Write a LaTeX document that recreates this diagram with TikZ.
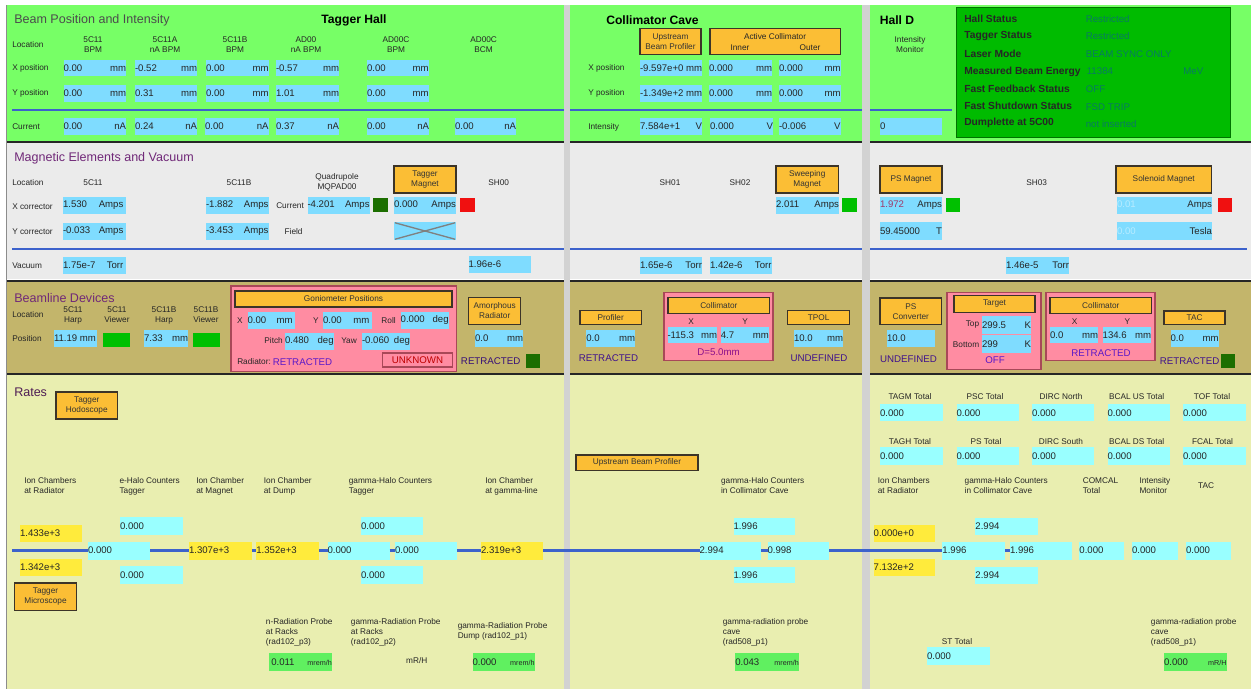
\documentclass[tikz,border=0pt]{standalone}
\usepackage{fontspec}
\setmainfont{Liberation Sans}
\definecolor{bgreen}{HTML}{77FF66}
\definecolor{bgrey}{HTML}{EBEBEB}
\definecolor{btan}{HTML}{C3B56B}
\definecolor{byel}{HTML}{E9EEB0}
\definecolor{gapc}{HTML}{D2D2D2}
\definecolor{fcyan}{HTML}{7FDCFF}
\definecolor{rcyan}{HTML}{99FFFF}
\definecolor{ryel}{HTML}{FFEB3C}
\definecolor{rgreen}{HTML}{60F060}
\definecolor{btnc}{HTML}{FBBE35}
\definecolor{btnb}{HTML}{3C3428}
\definecolor{blueln}{HTML}{3C62CC}
\definecolor{headc}{HTML}{702878}
\definecolor{sgreen}{HTML}{00C000}
\definecolor{sdark}{HTML}{1C6E00}
\definecolor{sred}{HTML}{F01010}
\definecolor{pinkc}{HTML}{FF8CA2}
\definecolor{pinkb}{HTML}{A84858}
\definecolor{purp}{HTML}{5A18C8}
\definecolor{statusc}{HTML}{00BB00}
\definecolor{statusv}{HTML}{087A62}
\tikzset{
 x=0.75pt,y=-0.75pt,
 lbl/.style={inner sep=0pt,font=\fontsize{6.2}{7.5}\selectfont,text=black!85,align=left},
 clbl/.style={inner sep=0pt,font=\fontsize{6.2}{7.5}\selectfont,text=black!85,align=center},
 head/.style={inner sep=0pt,font=\fontsize{9.4}{11}\selectfont,text=headc,anchor=west},
 hall/.style={inner sep=0pt,font=\bfseries\fontsize{9.1}{11}\selectfont,text=black},
 vbox/.style={inner sep=0pt,outer sep=0pt,font=\fontsize{7.2}{8}\selectfont,text=black!85},
 btnbox/.style={draw=btnb,line width=0.9pt,fill=btnc,inner sep=0pt,outer sep=0pt,align=center,font=\fontsize{6.2}{7.5}\selectfont,text=black!80},
 stat/.style={inner sep=0pt,anchor=west,font=\bfseries\fontsize{7.7}{8}\selectfont,text=black!85},
 statv/.style={inner sep=0pt,anchor=west,font=\fontsize{7.3}{8}\selectfont,text=statusv},
 state/.style={inner sep=0pt,font=\fontsize{7.3}{8}\selectfont,text=purp},
 pinkbox/.style={draw=pinkb,line width=0.8pt,fill=pinkc,inner sep=0pt,outer sep=0pt},
 ledbox/.style={inner sep=0pt,outer sep=0pt},
 bluerule/.style={draw=blueln,line width=1.4pt},
 beam/.style={draw=blueln,line width=1.6pt},
}
\newcount\nn
\newcommand\core[8]{%
 \pgfmathsetmacro\wpt{(#5-#3)*0.75}\pgfmathsetmacro\hpt{(#6-#4)*0.75}%
 \node[vbox,fill=#2,minimum width=\wpt pt,minimum height=\hpt pt] (#1) at ({(#3+#5)/2},{(#4+#6)/2}) {\makebox[\wpt pt]{#7\hfill #8}};}
\newcommand\fld[6][fcyan]{\global\advance\nn 1 \core{f\the\nn}{#1}{#2}{#3}{#4}{#5}{#6}}
\newcommand\bfld[5]{\core{#1}{#2}{#3}{541.5}{#4}{559.5}{#5}{}}
\newcommand\lab[4][west]{\global\advance\nn 1 \node[lbl,anchor=#1] (t\the\nn) at (#2,#3) {#4};}
\newcommand\clab[3]{\global\advance\nn 1 \node[clbl] (t\the\nn) at (#1,#2) {#3};}
\newcommand\btn[5]{\global\advance\nn 1 \pgfmathsetmacro\wpt{(#3-#1)*0.75}\pgfmathsetmacro\hpt{(#4-#2)*0.75}%
 \node[btnbox,minimum width=\wpt pt,minimum height=\hpt pt] (b\the\nn) at ({(#1+#3)/2},{(#2+#4)/2}) {#5};}
\newcommand\led[5]{\global\advance\nn 1 \pgfmathsetmacro\wpt{(#3-#1)*0.75}\pgfmathsetmacro\hpt{(#4-#2)*0.75}%
 \node[ledbox,fill=#5,minimum width=\wpt pt,minimum height=\hpt pt] (l\the\nn) at ({(#1+#3)/2},{(#2+#4)/2}) {};}
\newcommand\pinkrect[4]{\global\advance\nn 1 \pgfmathsetmacro\wpt{(#3-#1)*0.75}\pgfmathsetmacro\hpt{(#4-#2)*0.75}%
 \node[pinkbox,minimum width=\wpt pt,minimum height=\hpt pt] (p\the\nn) at ({(#1+#3)/2},{(#2+#4)/2}) {};}
\newcommand\su[1]{{\fontsize{5.4}{6}\selectfont #1}}
\newcommand\sta[4][]{\global\advance\nn 1 \node[state,#1] (s\the\nn) at (#2,#3) {#4};}
\begin{document}
\begin{tikzpicture}
\useasboundingbox (0,0) rectangle (1251,689);
\fill[white] (0,0) rectangle (1251,689);
% bands
\fill[bgreen] (6,4.5) rectangle (1251,141);
\fill[bgrey] (6,143) rectangle (1251,279);
\fill[btan] (6,281) rectangle (1251,373);
\fill[byel] (6,375) rectangle (1251,689);
\fill[black!85] (6,141) rectangle (1251,143);
\fill[black!85] (6,279.5) rectangle (1251,281.5);
\fill[black!85] (6,373) rectangle (1251,375);
\fill[black!45] (5.5,4.5) rectangle (6.5,689);
\fill[gapc] (563.5,4.5) rectangle (570,689);
\fill[gapc] (862,4.5) rectangle (870,689);
% blue rules
\draw[bluerule] (12,110) -- (563.5,110);
\draw[bluerule] (570,110) -- (862,110);
\draw[bluerule] (870,110) -- (952,110);
\draw[bluerule] (12,249) -- (563.5,249);
\draw[bluerule] (570,249) -- (862,249);
\draw[bluerule] (870,249) -- (1247,249);

% ---------- Beam position
\node[head,text=black!70] (hbeam) at (14,20) {Beam Position and Intensity};
\node[hall] (htag) at (354,20) {Tagger Hall};
\node[hall] (hcol) at (652.5,20) {Collimator Cave};
\node[hall] (hdd) at (897,20) {Hall D};
\lab{12}{44.7}{Location}
\clab{93}{45}{5C11\\BPM}
\clab{165}{45}{5C11A\\nA BPM}
\clab{235}{45}{5C11B\\BPM}
\clab{306}{45}{AD00\\nA BPM}
\clab{396}{45}{AD00C\\BPM}
\clab{483.6}{45}{AD00C\\BCM}
\lab{12}{68}{X position}
\lab{12}{93}{Y position}
\lab{12}{127}{Current}
\fld{63.5}{59.5}{126}{76}{0.00}{mm}
\fld{135}{59.5}{197}{76}{-0.52}{mm}
\fld{206}{59.5}{268.5}{76}{0.00}{mm}
\fld{276}{59.5}{339}{76}{-0.57}{mm}
\fld{367}{59.5}{428.6}{76}{0.00}{mm}
\fld{63.5}{85}{126}{101.5}{0.00}{mm}
\fld{135}{85}{197}{101.5}{0.31}{mm}
\fld{206}{85}{268.5}{101.5}{0.00}{mm}
\fld{276}{85}{339}{101.5}{1.01}{mm}
\fld{367}{85}{428.6}{101.5}{0.00}{mm}
\fld{63.5}{118}{126}{135}{0.00}{nA}
\fld{135}{118}{197}{135}{0.24}{nA}
\fld{205}{118}{268.5}{135}{0.00}{nA}
\fld{276}{118}{339}{135}{0.37}{nA}
\fld{367}{118}{429}{135}{0.00}{nA}
\fld{455}{118}{516}{135}{0.00}{nA}
% collimator cave top
\btn{640}{28.7}{701}{54.7}{Upstream\\Beam Profiler}
\btn{710}{28.7}{840.6}{54.7}{}
\clab{775}{37}{Active Collimator}
\clab{740}{47.5}{Inner}
\clab{810}{47.5}{Outer}
\lab{588}{68}{X position}
\lab{588}{93}{Y position}
\lab{588}{127}{Intensity}
\fld{640}{59.5}{702}{76}{-9.597e+0}{mm}
\fld{709}{59.5}{772}{76}{0.000}{mm}
\fld{779}{59.5}{840.6}{76}{0.000}{mm}
\fld{640}{85}{702}{101.5}{-1.349e+2}{mm}
\fld{709}{85}{772}{101.5}{0.000}{mm}
\fld{779}{85}{840.6}{101.5}{0.000}{mm}
\fld{640}{118}{702}{135}{7.584e+1}{V}
\fld{710}{118}{773}{135}{0.000}{V}
\fld{779}{118}{840.6}{135}{-0.006}{V}
% hall D top
\clab{910}{45}{Intensity\\Monitor}
\fld{880}{118}{942}{135}{0}{}
\node[draw=green!45!black,line width=0.7pt,fill=statusc,inner sep=0pt,minimum width=205.9pt,minimum height=97.5pt] (statusbox) at (1093.25,72) {};
\node[stat] (s1) at (964,19) {Hall Status};
\node[stat] (s2) at (964,36) {Tagger Status};
\node[stat] (s3) at (964,54) {Laser Mode};
\node[stat] (s4) at (964,72) {Measured Beam Energy};
\node[stat] (s5) at (964,89) {Fast Feedback Status};
\node[stat] (s6) at (964,106) {Fast Shutdown Status};
\node[stat] (s7) at (964,123) {Dumplette at 5C00};
\node[statv] (v1) at (1085.5,19) {Restricted};
\node[statv] (v2) at (1085.5,36.5) {Restricted};
\node[statv] (v3) at (1085.5,54) {BEAM SYNC ONLY};
\node[statv] (v4) at (1086.5,71.5) {11384};
\node[statv] (v4u) at (1183,71.5) {MeV};
\node[statv] (v5) at (1085.5,89) {OFF};
\node[statv] (v6) at (1085.5,107) {FSD TRIP};
\node[statv] (v7) at (1085.5,124) {not inserted};

% ---------- Magnets
\node[head] (hmag) at (14,158) {Magnetic Elements and Vacuum};
\lab{12}{183}{Location}
\clab{93}{183}{5C11}
\clab{239}{183}{5C11B}
\clab{337}{182}{Quadrupole\\MQPAD00}
\btn{394}{166}{456}{193}{Tagger\\Magnet}
\clab{498.6}{183}{SH00}
\lab{12}{206.7}{X corrector}
\lab{12}{232}{Y corrector}
\lab{12}{265.7}{Vacuum}
\fld{63}{196.5}{126}{214}{1.530}{Amps~}
\fld{63}{222.5}{126}{240}{-0.033}{Amps~}
\fld{206}{196.5}{268.5}{214}{-1.882}{Amps}
\fld{206}{222.5}{268.5}{240}{-3.453}{Amps}
\lab{276}{206}{Current}
\clab{293.6}{231.5}{Field}
\fld{307.5}{196.5}{369.6}{214}{-4.201}{Amps}
\led{373}{198}{388}{212}{sdark}
\fld{394}{196.5}{456}{214}{0.000}{Amps}
\led{460}{198}{475}{212}{sred}
\fld{394}{222}{456}{240}{}{}
\node[inner sep=0pt] (xa) at (394,222.5) {};
\node[inner sep=0pt] (xb) at (456,239.5) {};
\node[inner sep=0pt] (xc) at (394,239.5) {};
\node[inner sep=0pt] (xd) at (456,222.5) {};
\draw[black!50,line width=1pt] (xa) -- (xb);
\draw[black!50,line width=1pt] (xc) -- (xd);
\fld{63}{257}{126}{274}{1.75e-7}{Torr~}
\fld{468.6}{256}{531.4}{273}{1.96e-6}{}
\clab{670}{183}{SH01}
\clab{740}{183}{SH02}
\btn{776}{166}{838.4}{193}{Sweeping\\Magnet}
\fld{776}{196.5}{839}{214}{2.011}{Amps}
\led{842}{198}{856.5}{212}{sgreen}
\fld{640}{257}{702}{274}{1.65e-6}{Torr}
\fld{710}{257}{771.5}{274}{1.42e-6}{Torr}
\btn{880}{166}{942}{193}{PS Magnet}
\fld{880}{196.5}{942}{214}{\textcolor[HTML]{A03868}{1.972}}{Amps}
\led{946}{198}{960}{212}{sgreen}
\fld{880}{222}{942}{240}{59.45000}{T}
\clab{1036.6}{183}{SH03}
\btn{1116}{166}{1211.5}{193}{Solenoid Magnet}
\fld{1117}{196.5}{1212}{214}{\textcolor[HTML]{B8ECFF}{0.01}}{Amps}
\led{1218}{198}{1232}{212}{sred}
\fld{1117}{222}{1212}{240}{\textcolor[HTML]{B8ECFF}{0.00}}{Tesla}
\fld{1006}{257}{1069}{274}{1.46e-5}{Torr}

% ---------- Beamline devices
\node[head] (hdev) at (14,298) {Beamline Devices};
\lab{12}{315}{Location}
\clab{73}{315}{5C11\\Harp}
\clab{117}{315}{5C11\\Viewer}
\clab{164}{315}{5C11B\\Harp}
\clab{206}{315}{5C11B\\Viewer}
\lab{12}{338.7}{Position}
\fld{54}{330}{96.5}{346.7}{11.19 mm}{}
\led{103}{333}{130}{347.3}{sgreen}
\fld{144}{330}{188}{346.7}{7.33}{mm}
\led{193}{333}{220}{347.3}{sgreen}
\pinkrect{231}{286}{456.5}{371.7}
\btn{235}{291}{452}{307}{Goniometer Positions}
\clab{240}{321}{X}
\fld{247.5}{312}{295.4}{329}{0.00}{mm~}
\clab{316}{321}{Y}
\fld{323}{312}{372}{329}{0.00}{mm~}
\clab{388.6}{321}{Roll}
\fld{400.7}{312}{448.6}{329}{0.000}{deg}
\clab{273.6}{341}{Pitch}
\fld{285}{332.7}{333.6}{350}{0.480}{deg}
\clab{349}{341}{Yaw}
\fld{362}{332.7}{410}{350}{-0.060}{deg}
\lab{237}{362}{Radiator:}
\sta[anchor=west]{272.5}{362}{RETRACTED}
\node[draw=pinkb,line width=0.8pt,inner sep=0pt,minimum width=52.5pt,minimum height=10.5pt,font=\fontsize{7.3}{8}\selectfont,text=red!75!black] (unk) at (417.5,360) {UNKNOWN};
\btn{468.6}{297.3}{520.7}{324.3}{Amorphous\\Radiator}
\fld{475}{330}{523}{346.7}{0.0}{mm}
\sta[anchor=west,text=purp!60!black]{460.7}{361}{RETRACTED}
\led{526.4}{354}{540}{367.7}{sdark}
% mid
\btn{580}{310.3}{641.5}{324.3}{Profiler}
\fld{586.4}{330}{635}{346.7}{0.0}{mm}
\sta[text=purp!70!black]{608.5}{358}{RETRACTED}
\pinkrect{664}{292.7}{773}{360.7}
\btn{668}{297.3}{769.7}{313.3}{Collimator}
\clab{691}{321.3}{X}
\clab{745}{321.3}{Y}
\fld{667.5}{326.7}{717}{343.3}{-115.3}{mm}
\fld{720.8}{326.7}{768.8}{343.3}{4.7}{mm}
\sta[text=purp!70!red]{718.6}{352}{D=5.0mm}
\btn{787.8}{310.3}{849.4}{324.3}{TPOL}
\fld{794}{330}{843}{346.7}{10.0}{mm}
\sta[text=purp!70!black]{819}{358}{UNDEFINED}
% right
\btn{880}{298}{941.5}{324.7}{PS\\Converter}
\fld{887}{330}{935}{346.7}{10.0}{}
\sta[text=purp!70!black]{908.5}{358.7}{UNDEFINED}
\pinkrect{947}{292.7}{1041}{369.3}
\btn{954}{295.7}{1035}{312.3}{Target}
\lab[east]{979.4}{324.7}{Top}
\lab[east]{979.4}{345}{Bottom}
\fld{982}{316}{1031}{334}{299.5}{K}
\fld{982}{335}{1031}{353}{299}{K}
\sta{995}{360}{OFF}
\pinkrect{1046}{292.7}{1155}{360.7}
\btn{1050}{297.3}{1151.6}{313.3}{Collimator}
\clab{1074.5}{321.3}{X}
\clab{1127.4}{321.3}{Y}
\fld{1050}{326.7}{1098}{343.3}{0.0}{mm}
\fld{1102.7}{326.7}{1151}{343.3}{134.6}{mm}
\sta{1101}{352.7}{RETRACTED}
\btn{1164}{311}{1225}{324.7}{TAC}
\fld{1170.6}{330}{1218.6}{346.7}{0.0}{mm}
\sta[anchor=west,text=purp!70!black]{1159.6}{361}{RETRACTED}
\led{1221}{354}{1235}{367.7}{sdark}

% ---------- Rates
\node[head,text=headc!70!black] (hrates) at (14,392) {Rates};
\btn{56}{392}{117.5}{419}{Tagger\\Hodoscope}
\btn{14.6}{583}{76.4}{610.7}{Tagger\\Microscope}
\btn{576}{455}{698}{470.3}{Upstream Beam Profiler}
\lab{24}{486}{Ion Chambers\\at Radiator}
\lab{119.3}{486}{e-Halo Counters\\Tagger}
\lab{196}{486}{Ion Chamber\\at Magnet}
\lab{263.6}{486}{Ion Chamber\\at Dump}
\lab{348.6}{486}{gamma-Halo Counters\\Tagger}
\lab{485}{486}{Ion Chamber\\at gamma-line}
\lab{720.8}{486}{gamma-Halo Counters\\in Collimator Cave}
\lab{877.6}{486}{Ion Chambers\\at Radiator}
\lab{964.4}{486}{gamma-Halo Counters\\in Collimator Cave}
\lab{1082.5}{486}{COMCAL\\Total}
\lab{1139.3}{486}{Intensity\\Monitor}
\clab{1206}{486}{TAC}
\fld[ryel]{20}{525}{82}{541.7}{1.433e+3}{}
\fld[ryel]{20}{559}{82}{575.7}{1.342e+3}{}
\fld[rcyan]{120}{517.3}{182.5}{534.7}{0.000}{}
\fld[rcyan]{120}{566.3}{182.5}{584}{0.000}{}
\fld[rcyan]{361}{517.3}{423}{534.7}{0.000}{}
\fld[rcyan]{361}{566.3}{423}{584}{0.000}{}
\fld[rcyan]{733.6}{517.7}{795}{535}{1.996}{}
\fld[rcyan]{733.6}{566.7}{795}{583.3}{1.996}{}
\fld[rcyan]{975.4}{517.7}{1038.4}{535}{2.994}{}
\fld[rcyan]{975.4}{566.7}{1038.4}{584}{2.994}{}
\fld[ryel]{873.7}{524.7}{935}{542}{0.000e+0}{}
\fld[ryel]{873.7}{558.7}{935}{575.7}{7.132e+2}{}
\coordinate (bstart) at (12,550.5);
\bfld{k1}{rcyan}{88}{150}{0.000}
\bfld{k2}{ryel}{189}{252}{1.307e+3}
\bfld{k3}{ryel}{256.4}{319}{1.352e+3}
\bfld{k4}{rcyan}{327.5}{389.6}{0.000}
\bfld{k5}{rcyan}{395}{457}{0.000}
\bfld{k6}{ryel}{481}{543}{2.319e+3}
\bfld{k7}{rcyan}{699.6}{761.3}{2.994}
\bfld{k8}{rcyan}{767.5}{829}{0.998}
\bfld{k9}{rcyan}{942.4}{1005}{1.996}
\bfld{k10}{rcyan}{1010}{1072.3}{1.996}
\bfld{k11}{rcyan}{1079.4}{1124.3}{0.000}
\bfld{k12}{rcyan}{1132}{1177.6}{0.000}
\bfld{k13}{rcyan}{1186}{1230.5}{0.000}
\draw[beam] (bstart) -- (k1.west);
\draw[beam] (k1.east) -- (k2.west);
\draw[beam] (k2.east) -- (k3.west);
\draw[beam] (k3.east) -- (k4.west);
\draw[beam] (k4.east) -- (k5.west);
\draw[beam] (k5.east) -- (k6.west);
\draw[beam] (k6.east) -- (k7.west);
\draw[beam] (k7.east) -- (k8.west);
\draw[beam] (k8.east) -- (k9.west);
\draw[beam] (k9.east) -- (k10.west);
% totals
\clab{910}{396.7}{TAGM Total}
\clab{985}{396.7}{PSC Total}
\clab{1061}{396.7}{DIRC North}
\clab{1136.6}{396.7}{BCAL US Total}
\clab{1212}{396.7}{TOF Total}
\clab{910}{441.7}{TAGH Total}
\clab{986}{441.7}{PS Total}
\clab{1061}{441.7}{DIRC South}
\clab{1136.6}{441.7}{BCAL DS Total}
\clab{1212.5}{441.7}{FCAL Total}
\fld[rcyan]{880}{404.3}{943}{421.3}{0.000}{}
\fld[rcyan]{956.5}{404.3}{1019}{421.3}{0.000}{}
\fld[rcyan]{1032}{404.3}{1094.4}{421.3}{0.000}{}
\fld[rcyan]{1107.6}{404.3}{1170}{421.3}{0.000}{}
\fld[rcyan]{1183}{404.3}{1245.5}{421.3}{0.000}{}
\fld[rcyan]{880}{447.3}{943}{464.7}{0.000}{}
\fld[rcyan]{956.5}{447.3}{1019}{464.7}{0.000}{}
\fld[rcyan]{1032}{447.3}{1094.4}{464.7}{0.000}{}
\fld[rcyan]{1107.6}{447.3}{1170}{464.7}{0.000}{}
\fld[rcyan]{1183}{447.3}{1245.5}{464.7}{0.000}{}
% probes
\lab{265.7}{632}{n-Radiation Probe\\at Racks\\(rad102\_p3)}
\lab{350.7}{632}{gamma-Radiation Probe\\at Racks\\(rad102\_p2)}
\lab{457.5}{631.7}{gamma-Radiation Probe\\Dump (rad102\_p1)}
\lab{722.6}{632}{gamma-radiation probe\\cave\\(rad508\_p1)}
\lab{1150.7}{632}{gamma-radiation probe\\cave\\(rad508\_p1)}
\fld[rgreen]{268.6}{652.7}{331.8}{670.7}{~0.011}{\su{mrem/h}}
\clab{416.8}{661}{mR/H}
\fld[rgreen]{472.5}{652.7}{534.6}{670.7}{0.000}{\su{mrem/h}}
\fld[rgreen]{735.3}{652.7}{798.8}{670.7}{0.043}{\su{mrem/h}}
\fld[rgreen]{1164}{652.7}{1226.5}{670.7}{0.000}{\su{mR/H}}
\clab{957}{642}{ST Total}
\fld[rcyan]{927}{647.3}{989.5}{665.3}{0.000}{}
\end{tikzpicture}
\end{document}
